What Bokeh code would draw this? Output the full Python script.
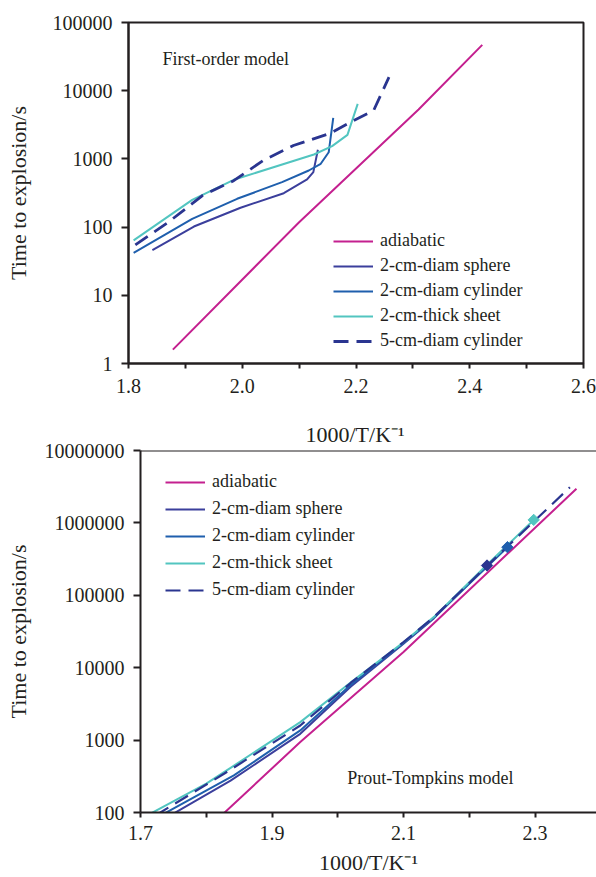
import numpy as np
from bokeh.plotting import figure
from bokeh.models import (FixedTicker, CustomJSTickFormatter, Label, Legend,
                          LegendItem, Span, Range1d, Title)
from bokeh.embed import file_html
from bokeh.resources import INLINE

# ---------------- data: first-order model ----------------
top_x_ticks = [1.8, 1.9, 2.0, 2.1, 2.2, 2.3, 2.4, 2.5, 2.6]
top_y_ticks = [1, 10, 100, 1000, 10000, 100000]

fo_adiabatic_x = [1.878, 2.10, 2.31, 2.422]
fo_adiabatic_y = [1.6, 118, 5300, 47000]

fo_sphere_x = [1.842, 1.915, 1.997, 2.073, 2.114, 2.125, 2.133]
fo_sphere_y = [46, 102, 192, 314, 500, 640, 1360]

fo_cyl2_x = [1.809, 1.912, 1.991, 2.070, 2.117, 2.138, 2.152, 2.160]
fo_cyl2_y = [42, 132, 260, 456, 676, 848, 1250, 4000]

fo_sheet_x = [1.809, 1.912, 1.985, 2.126, 2.158, 2.185, 2.203]
fo_sheet_y = [64, 251, 494, 1160, 1540, 2250, 6400]

fo_cyl5_x = [1.812, 1.87, 1.93, 1.985, 2.037, 2.09, 2.155, 2.19, 2.231, 2.258]
fo_cyl5_y = [55, 118, 290, 480, 950, 1570, 2380, 3450, 5130, 15800]

# ---------------- data: Prout-Tompkins model ----------------
bot_x_ticks = [1.7, 1.8, 1.9, 2.0, 2.1, 2.2, 2.3]
bot_y_ticks = [100, 1000, 10000, 100000, 1000000, 10000000]

pt_adiabatic_x = [1.822, 1.943, 2.10, 2.363]
pt_adiabatic_y = [89, 940, 16500, 2960000]

pt_sphere_x = [1.7406, 1.837, 1.943, 2.02, 2.10, 2.146, 2.227]
pt_sphere_y = [86, 275, 1220, 5500, 21500, 48000, 258000]

pt_cyl2_x = [1.725, 1.842, 1.943, 2.02, 2.10, 2.146, 2.258]
pt_cyl2_y = [85, 325, 1360, 5800, 22000, 49000, 462000]

pt_sheet_x = [1.705, 1.80, 1.837, 1.943, 2.02, 2.10, 2.146, 2.227, 2.298]
pt_sheet_y = [86, 250, 414, 1770, 6300, 22500, 50000, 265000, 1100000]

pt_cyl5_x = [1.7228, 1.827, 1.943, 2.02, 2.10, 2.146, 2.227, 2.353]
pt_cyl5_y = [91, 343, 1590, 6200, 22500, 50000, 255000, 3100000]

pt_marker_x = [2.227, 2.258, 2.298]
pt_marker_y = [258000, 462000, 1100000]

series_names = ["adiabatic", "2-cm-diam sphere", "2-cm-diam cylinder",
                "2-cm-thick sheet", "5-cm-diam cylinder"]

X_LABEL = "1000/T/K\u207b\u00b9"
Y_LABEL = "Time to explosion/s"

# ---------------- style ----------------
FONT = "Liberation Serif"
TXT = "#231f20"
C_ADI = "#c4208f"
C_SPH = "#3b3f9c"
C_CYL = "#1f5fad"
C_SHT = "#52c5c0"
C_C5 = "#2a3590"
MARK_COLORS = [C_C5, C_CYL, C_SHT]


def style_axes(p, xticks, yticks, even_label, ylab_standoff, xtick_standoff,
               xlabel=None, xlab_standoff=0):
    p.grid.visible = False
    p.background_fill_color = "white"
    p.border_fill_color = "white"
    for ax in (p.xaxis[0], p.yaxis[0]):
        ax.axis_line_color = TXT
        ax.axis_line_width = 2
        ax.major_tick_line_color = TXT
        ax.major_tick_line_width = 2
        ax.major_tick_in = 0
        ax.minor_tick_line_color = None
        ax.major_label_text_font = FONT
        ax.major_label_text_font_size = "20px"
        ax.major_label_text_color = TXT
        ax.axis_label_text_font = FONT
        ax.axis_label_text_font_size = "22px"
        ax.axis_label_text_font_style = "normal"
        ax.axis_label_text_color = TXT
    p.xaxis[0].ticker = FixedTicker(ticks=xticks)
    p.xaxis[0].major_tick_out = 5
    p.xaxis[0].major_label_standoff = xtick_standoff
    p.xaxis[0].axis_label = xlabel
    p.xaxis[0].axis_label_standoff = xlab_standoff
    rem = 0 if even_label else 1
    p.xaxis[0].formatter = CustomJSTickFormatter(
        code=f"const k = Math.round(tick*10); return (k % 2 == {rem}) ? tick.toFixed(1) : '';")
    p.yaxis[0].ticker = FixedTicker(ticks=yticks)
    p.yaxis[0].major_tick_out = 7
    p.yaxis[0].major_label_standoff = 9
    p.yaxis[0].axis_label = Y_LABEL
    p.yaxis[0].axis_label_standoff = ylab_standoff
    p.yaxis[0].formatter = CustomJSTickFormatter(code="return tick.toFixed(0);")


def draw_series(p, data, width_solid=2, width_dash=2.6):
    rs = []
    cols = [C_ADI, C_SPH, C_CYL, C_SHT, C_C5]
    for i, (xs, ys) in enumerate(data):
        if i == 4:
            r = p.line(xs, ys, line_color=cols[i], line_width=width_dash,
                       line_dash="15 8")
        else:
            r = p.line(xs, ys, line_color=cols[i], line_width=width_solid)
        rs.append(r)
    return rs


def make_legend(p, rs, loc, spacing):
    items = [LegendItem(label=n, renderers=[r]) for n, r in zip(series_names, rs)]
    leg = Legend(items=items, location=loc, glyph_width=40, glyph_height=20,
                 label_height=20, spacing=spacing, padding=0, margin=0,
                 label_standoff=7, border_line_color=None,
                 background_fill_alpha=0, label_text_font=FONT,
                 label_text_font_size="18px", label_text_color=TXT)
    p.add_layout(leg)


# ---------------- top figure ----------------
p1 = figure(width=596, height=404, x_range=Range1d(1.8, 2.6),
            y_range=Range1d(1, 1e5), y_axis_type="log",
            output_backend="svg", toolbar_location=None,
            min_border_left=128, min_border_right=13,
            min_border_top=22, min_border_bottom=41)
style_axes(p1, top_x_ticks, top_y_ticks, True, 19, 10)
p1.outline_line_color = TXT
p1.outline_line_width = 2

r_top = draw_series(p1, [(fo_adiabatic_x, fo_adiabatic_y),
                         (fo_sphere_x, fo_sphere_y),
                         (fo_cyl2_x, fo_cyl2_y),
                         (fo_sheet_x, fo_sheet_y),
                         (fo_cyl5_x, fo_cyl5_y)], width_dash=2.8)
make_legend(p1, r_top, (205, 12), 4)

p1.add_layout(Label(x=1.8598, y=29650, text="First-order model",
                    text_align="left", text_baseline="middle",
                    text_font=FONT, text_font_size="18px", text_color=TXT))

# ---------------- bottom figure ----------------
p2 = figure(width=596, height=473, x_range=Range1d(1.7, 2.3935),
            y_range=Range1d(100, 1e7), y_axis_type="log",
            output_backend="svg", toolbar_location=None,
            min_border_left=140, min_border_right=0,
            min_border_top=46, min_border_bottom=65)
style_axes(p2, bot_x_ticks, bot_y_ticks, False, 11, 8, X_LABEL, 7)
p2.outline_line_color = None
p2.add_layout(Span(location=1e7, dimension="width", line_color=TXT, line_width=2))

# x-axis title of the upper (first-order) panel, sitting just above this panel
p2.add_layout(Title(text=X_LABEL, align="left", offset=165, standoff=8,
                    text_font=FONT, text_font_size="22px",
                    text_font_style="normal", text_color=TXT), "above")

r_bot = draw_series(p2, [(pt_adiabatic_x, pt_adiabatic_y),
                         (pt_sphere_x, pt_sphere_y),
                         (pt_cyl2_x, pt_cyl2_y),
                         (pt_sheet_x, pt_sheet_y),
                         (pt_cyl5_x, pt_cyl5_y)], width_dash=2.2)
p2.scatter(pt_marker_x, pt_marker_y, marker="square", size=8, angle=np.pi / 4,
           fill_color=MARK_COLORS, line_color=MARK_COLORS)
make_legend(p2, r_bot, (25, 212), 6)

p2.add_layout(Label(x=2.0144, y=301, text="Prout-Tompkins model",
                    text_align="left", text_baseline="middle",
                    text_font=FONT, text_font_size="18px", text_color=TXT))

open("out.html", "w").write(file_html([p1, p2], INLINE))
